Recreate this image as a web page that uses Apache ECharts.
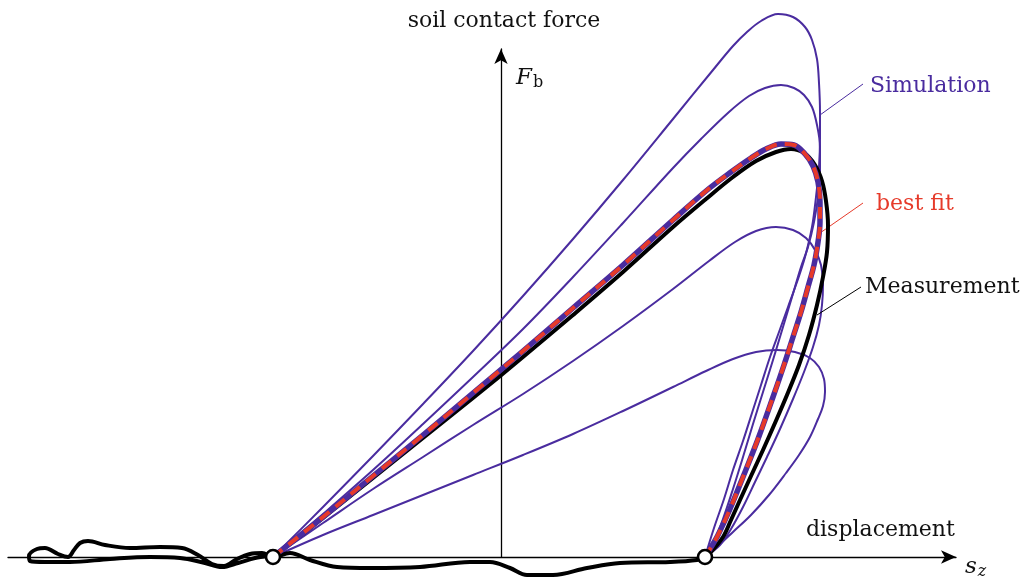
<!DOCTYPE html>
<html>
<head>
<meta charset="utf-8">
<script src="https://cdn.jsdelivr.net/npm/echarts@6/dist/echarts.min.js"></script>
<style>
html,body{margin:0;padding:0;background:#fff;}
#main{width:1022px;height:577px;}
</style>
</head>
<body>
<div id="main"></div>
<script>
// ---- data (arbitrary units: displacement s_z, soil contact force F_b) ----
var contactStart = [-228, 0];
var contactEnd = [204, 0];

var simulation1 = [[-228,0],[-178,50],[-128,101],[-78,153],[-28,206],[22,261],[72,318],[122,377],[172,438],[212,487],[232,511],[246,525],[260,536],[277,543],[292,540],[304,530],[311,517],[316,498],[318,474],[319,445],[319,420],[318,390],[315,360],[311,330],[304,300],[296,275],[287,250],[278,225],[269,200],[260,172],[251,144],[242,116],[232,87],[223,58],[213,29],[204,0]];
var simulation2 = [[-228,0],[-178,43],[-128,87],[-78,133],[-28,180],[22,228],[72,280],[122,334],[172,389],[200,418],[228,445],[248,461],[264,469],[280,472],[293,469],[303,462],[311,450],[316,432],[319,410],[319,385],[317,360],[313,335],[307,310],[300,290],[291,260],[282,230],[272,197],[262,165],[252,133],[242,100],[232,68],[222,38],[213,15],[204,0]];
var simulation4 = [[-228,0],[-178,34],[-128,68],[-78,100],[-28,132],[22,163],[72,196],[122,231],[172,268],[208,296],[234,315],[255,326],[275,330],[292,327],[305,319],[314,307],[320,292],[322,272],[321,252],[318,232],[312,210],[303,185],[292,158],[279,128],[266,100],[254,75],[242,50],[230,28],[219,12],[204,0]];
var simulation5 = [[-228,0],[-178,22],[-128,42],[-78,62],[-28,82],[22,102],[72,123],[122,146],[172,170],[205,186],[232,198],[255,205],[276,207],[294,205],[309,199],[318,190],[323,178],[324,165],[322,151],[317,138],[309,120],[298,102],[285,84],[268,62],[250,42],[232,25],[217,11],[204,0]];
var bestFit = [[-228,0],[-178,40],[-128,81],[-78,122],[-28,164],[22,206],[72,249],[122,292],[172,337],[205,366],[230,385],[250,399],[265,408],[280,413],[293,412],[304,403],[312,391],[317,375],[319,355],[319,335],[317,315],[313,292],[307,270],[300,245],[292,220],[283,192],[272,160],[257,118],[242,80],[229,48],[217,22],[209,8],[204,0]];
var measurement = [[-228,0],[-178,39],[-128,79],[-78,119],[-28,159],[22,200],[72,242],[122,285],[172,330],[205,358],[232,380],[255,396],[275,405],[290,408],[303,404],[314,392],[321,376],[325,356],[327,332],[326,305],[322,280],[316,252],[308,222],[298,192],[286,162],[274,134],[262,107],[250,81],[239,57],[230,37],[222,20],[210,5],[204,0],
  [196,-3],[169,-5],[119,-6],[86,-11],[52,-18],[26,-18],[9,-11],[-11,-5],[-31,-5],[-81,-10],[-131,-11],[-164,-10],[-191,-3],[-211,4],[-228,0],
  [-239,4],[-251,3],[-264,-2],[-277,-9],[-289,-7],[-303,2],[-319,9],[-341,10],[-371,9],[-396,12],[-413,16],[-421,14],[-427,7],[-433,0],[-443,3],[-456,9],[-464,8],[-472,1],[-471,-4],[-456,-5],[-431,-5],[-391,-2],[-351,0],[-321,-1],[-296,-6],[-279,-10],[-263,-6],[-246,-1],[-233,1]];

var leaderSimulation = [[319,442],[362,473]];
var leaderBestFit = [[319,324],[362,354]];
var leaderMeasurement = [[316,242],[360,270]];

var labelTexts = {
  yTitle: 'soil contact force',
  xTitle: 'displacement',
  sim: 'Simulation',
  fit: 'best fit',
  meas: 'Measurement'
};

// ---- styling ----
var PURPLE = '#4a2c9f';
var RED = '#e63a2a';
var FONT = '"DejaVu Serif", serif';

function curve(data, color, width, z, type) {
  return {
    type: 'line', data: data, smooth: 0.35, symbol: 'none', clip: false, z: z,
    silent: true, animation: false,
    lineStyle: { color: color, width: width, type: type || 'solid', cap: 'butt', join: 'round' }
  };
}
function leader(data, color, z) {
  return { type: 'line', data: data, symbol: 'none', clip: false, z: z, silent: true, animation: false,
    lineStyle: { color: color, width: 1 } };
}

var chart = echarts.init(document.getElementById('main'), null, { renderer: 'canvas' });
chart.setOption({
  animation: false,
  backgroundColor: '#fff',
  grid: { left: 8, right: 66, top: 49, bottom: 20 },
  xAxis: {
    type: 'value', min: -493, max: 455,
    axisLine: { onZero: true, lineStyle: { color: '#000', width: 1.3 }, symbol: ['none', 'arrow'], symbolSize: [10, 15] },
    axisTick: { show: false }, axisLabel: { show: false }, splitLine: { show: false }
  },
  yAxis: {
    type: 'value', min: 0, max: 508,
    axisLine: { onZero: true, lineStyle: { color: '#000', width: 1.3 }, symbol: ['none', 'arrow'], symbolSize: [10, 15] },
    axisTick: { show: false }, axisLabel: { show: false }, splitLine: { show: false }
  },
  series: [
    curve(simulation1, PURPLE, 2, 2),
    curve(simulation2, PURPLE, 2, 2),
    curve(simulation4, PURPLE, 2, 2),
    curve(simulation5, PURPLE, 2, 2),
    leader(leaderSimulation, PURPLE, 2),
    leader(leaderBestFit, RED, 2),
    leader(leaderMeasurement, '#000', 2),
    curve(measurement, '#000', 4, 3),
    curve(bestFit, PURPLE, 5.5, 4),
    curve(bestFit, RED, 4, 5, [12, 8]),
    {
      type: 'scatter', data: [contactStart, contactEnd], symbol: 'circle', symbolSize: 14, z: 6, clip: false,
      silent: true, animation: false,
      itemStyle: { color: '#fff', borderColor: '#000', borderWidth: 2.6, opacity: 1 }
    }
  ],
  graphic: [
    { type: 'text', x: 504, y: 21, style: { text: labelTexts.yTitle, font: '22px ' + FONT, fill: '#111', align: 'center', verticalAlign: 'middle' } },
    { type: 'text', x: 516, y: 78, style: { text: '{F|F}{b|b}', fill: '#111', verticalAlign: 'middle', align: 'left',
        rich: { F: { font: 'italic 23px ' + FONT, fill: '#111' }, b: { font: '16px ' + FONT, fill: '#111', padding: [10, 0, 0, 1] } } } },
    { type: 'text', x: 806, y: 530, style: { text: labelTexts.xTitle, font: '22px ' + FONT, fill: '#111', align: 'left', verticalAlign: 'middle' } },
    { type: 'text', x: 965, y: 567, style: { text: '{s|s}{z|z}', fill: '#111', verticalAlign: 'middle', align: 'left',
        rich: { s: { font: 'italic 23px ' + FONT, fill: '#111' }, z: { font: 'italic 16px ' + FONT, fill: '#111', padding: [10, 0, 0, 1] } } } },
    { type: 'text', x: 870, y: 86, style: { text: labelTexts.sim, font: '22px ' + FONT, fill: PURPLE, align: 'left', verticalAlign: 'middle' } },
    { type: 'text', x: 876, y: 204, style: { text: labelTexts.fit, font: '22px ' + FONT, fill: RED, align: 'left', verticalAlign: 'middle' } },
    { type: 'text', x: 865, y: 287, style: { text: labelTexts.meas, font: '22px ' + FONT, fill: '#111', align: 'left', verticalAlign: 'middle' } }
  ]
});
</script>
</body>
</html>
